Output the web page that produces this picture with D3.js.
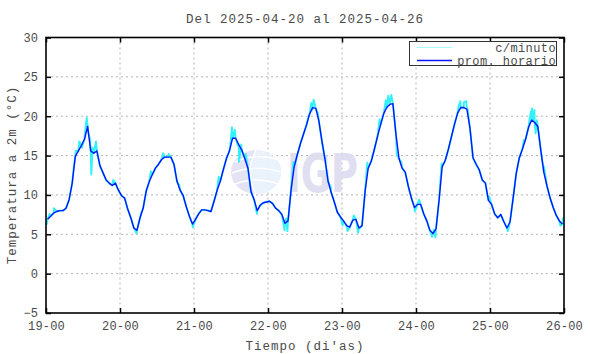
<!DOCTYPE html>
<html>
<head>
<meta charset="utf-8">
<script src="https://cdn.jsdelivr.net/npm/d3@7"></script>
<style>
  body { margin: 0; background: #fff; }
  svg { display: block; }
  text { font-family: "Liberation Mono", "DejaVu Sans Mono", monospace; fill: #4a4a4a; }
</style>
</head>
<body>
<svg id="chart"></svg>
<script>
const width = 590;
const height = 354;
const margin = { top: 37.5, right: 26, bottom: 41, left: 46 };

const startDate = "2025-04-19T00:00:00Z";
const endDate = "2025-04-26T00:00:00Z";
const titleText = "Del 2025-04-20 al 2025-04-26";
const yTicks = [-5, 0, 5, 10, 15, 20, 25, 30];
const seriesNames = ["c/minuto", "prom. horario"];

// promedio horario (una lectura por hora, centrada en hh:30)
const hourlyTemp = [
  6.9, 7.3, 7.7, 7.9, 8.0, 8.0, 8.3, 9.4, 11.5, 14.9, 15.6, 16.3, 17.1, 18.7, 15.6, 15.3, 15.6, 13.7, 12.8, 11.9, 11.5, 11.2, 11.5, 10.6,
  9.9, 9.6, 8.2, 7.1, 5.8, 5.5, 7.1, 8.3, 10.5, 11.7, 12.6, 13.4, 13.9, 14.5, 14.8, 14.8, 14.8, 13.9, 11.7, 10.6, 9.9, 8.5, 7.3, 6.3,
  6.9, 7.6, 8.1, 8.1, 8.0, 7.9, 9.2, 10.6, 11.7, 13.2, 14.6, 15.6, 17.2, 17.2, 16.4, 15.7, 14.6, 13.4, 10.4, 9.4, 8.0, 8.7, 9.0, 9.1,
  9.2, 8.9, 8.3, 8.0, 7.5, 6.4, 6.7, 10.7, 13.6, 15.1, 16.5, 17.7, 18.9, 20.3, 21.1, 21.0, 19.4, 16.8, 14.5, 11.7, 10.3, 9.1, 7.8, 7.2,
  6.7, 6.1, 5.9, 6.8, 6.9, 5.8, 6.1, 10.5, 13.4, 14.3, 15.8, 17.4, 18.9, 20.3, 21.1, 21.5, 21.6, 17.7, 14.6, 13.4, 12.9, 11.1, 9.6, 8.4,
  8.8, 8.8, 7.6, 6.7, 5.5, 5.1, 5.7, 9.4, 13.6, 14.4, 15.8, 17.4, 19.0, 20.4, 21.1, 21.1, 20.9, 18.5, 14.7, 13.9, 13.2, 11.9, 11.5, 9.3,
  8.8, 7.6, 7.1, 7.5, 6.6, 5.8, 6.6, 9.6, 12.7, 14.7, 15.8, 17.0, 18.6, 19.5, 19.2, 18.7, 15.6, 12.8, 11.1, 9.6, 8.4, 7.4, 6.7, 6.3
];

// picos visibles de la serie por minuto: [hora desde el inicio, °C]
const minuteSpikes = [
  [0.2, 6.2], [1.2, 7.6], [2.6, 8.3], [9.0, 13.5], [9.6, 15.6], [10.8, 16.8], [11.6, 16.0], [12.6, 17.8],
  [13.2, 19.8], [13.7, 18.0], [14.3, 17.0], [14.7, 12.6], [15.1, 16.0], [16.2, 16.8], [21.8, 11.9], [23.2, 10.8],
  [29.4, 5.1], [30.8, 7.6], [34.0, 13.0], [38.0, 15.3], [39.8, 15.2], [43.2, 11.3], [47.6, 5.9],
  [56.0, 12.3], [59.8, 16.4], [60.3, 18.6], [60.8, 17.5], [61.2, 18.3], [62.2, 16.3], [62.6, 14.2], [63.3, 16.4],
  [64.8, 15.2], [68.4, 7.6], [77.4, 5.5], [77.9, 7.0], [78.3, 5.4], [80.2, 14.2], [84.8, 19.5], [86.0, 21.7],
  [86.4, 20.8], [86.8, 22.1], [87.3, 21.4], [88.2, 20.4], [92.4, 11.0], [96.2, 6.1], [97.8, 5.4], [99.8, 7.4],
  [101.2, 5.2], [101.8, 5.8], [104.2, 14.1], [108.2, 19.6], [110.2, 22.0], [110.6, 21.2], [111.0, 22.6], [111.5, 21.6],
  [112.0, 22.7], [112.6, 21.3], [113.8, 15.0], [115.2, 14.2], [119.6, 7.9], [121.0, 9.4], [125.2, 4.7], [125.8, 5.6],
  [126.3, 4.6], [128.3, 14.0], [133.8, 21.3], [134.4, 21.9], [135.0, 21.0], [135.5, 21.8], [136.3, 21.9], [136.8, 20.8],
  [143.7, 9.8], [149.8, 5.4], [151.8, 10.5], [155.0, 17.0], [156.8, 19.6], [157.3, 20.6], [157.6, 21.0], [158.0, 19.4],
  [158.4, 20.8], [158.8, 17.8], [159.2, 19.5], [161.5, 13.6], [166.8, 6.1], [167.6, 7.0], [168.0, 6.6]
];

const t0 = new Date(startDate);
const hourToDate = h => new Date(t0.getTime() + h * 3600e3);

const hourly = hourlyTemp.map((v, i) => ({ t: hourToDate(i + 0.5), v }));
const minute = hourly.concat(minuteSpikes.map(([h, v]) => ({ t: hourToDate(h), v })))
  .sort((a, b) => a.t - b.t);

const svg = d3.select("#chart")
  .attr("width", width)
  .attr("height", height);

const x = d3.scaleUtc()
  .domain([t0, new Date(endDate)])
  .range([margin.left, width - margin.right]);

const y = d3.scaleLinear()
  .domain([-5, 30])
  .range([height - margin.bottom, margin.top]);

const plotL = margin.left, plotR = width - margin.right;
const plotT = margin.top, plotB = height - margin.bottom;
const days = d3.utcDay.range(t0, d3.utcDay.offset(new Date(endDate), 1));

// rejilla punteada
const grid = svg.append("g")
  .attr("stroke", "#b4b4b4")
  .attr("stroke-width", 1)
  .attr("stroke-dasharray", "2,3");
grid.selectAll("line.gx")
  .data(days.slice(1, -1))
  .join("line")
    .attr("x1", d => x(d)).attr("x2", d => x(d))
    .attr("y1", plotT).attr("y2", plotB);
grid.selectAll("line.gy")
  .data(yTicks.slice(1, -1))
  .join("line")
    .attr("x1", plotL).attr("x2", plotR)
    .attr("y1", d => y(d)).attr("y2", d => y(d));

// marca de agua IGP
const logo = svg.append("g").attr("opacity", 0.9);
logo.append("ellipse")
  .attr("cx", 256).attr("cy", 172).attr("rx", 25).attr("ry", 22)
  .attr("fill", "#e1e1f4");
logo.append("path")
  .attr("d", "M256,150 A25,22 0 0,1 256,194 Q244,172 256,150 Z")
  .attr("fill", "#e8f1fc");
logo.append("g")
  .attr("fill", "none")
  .attr("stroke", "#fff")
  .attr("stroke-width", 1.4)
  .selectAll("path")
  .data([
    "M235,162 Q256,152 279,160",
    "M232,173 Q256,164 281,172",
    "M235,184 Q256,176 278,184",
    "M256,150 Q244,172 256,194"
  ])
  .join("path")
    .attr("d", d => d);
logo.append("text")
  .attr("x", 287).attr("y", 192)
  .attr("textLength", 71)
  .attr("lengthAdjust", "spacingAndGlyphs")
  .style("font-family", "'DejaVu Sans', sans-serif")
  .style("font-weight", "bold")
  .style("font-size", "54px")
  .style("fill", "#dcdcf0")
  .text("IGP");

// series
const line = d3.line()
  .x(d => x(d.t))
  .y(d => y(d.v));

svg.append("path")
  .datum(minute)
  .attr("fill", "none")
  .attr("stroke", "#30f2f8")
  .attr("stroke-width", 1.9)
  .attr("stroke-linejoin", "round")
  .attr("d", line);

svg.append("path")
  .datum(hourly)
  .attr("fill", "none")
  .attr("stroke", "#0a14ff")
  .attr("stroke-width", 1.4)
  .attr("stroke-linejoin", "round")
  .attr("d", line);

// ejes (marcas hacia dentro en los cuatro lados)
const xAxis = svg.append("g")
  .attr("transform", `translate(0,${plotB})`)
  .call(d3.axisBottom(x)
    .tickValues(days.slice(0, 8))
    .tickFormat(d3.utcFormat("%d-%H"))
    .tickSizeInner(-5).tickSizeOuter(0).tickPadding(8));
xAxis.select(".domain").remove();
xAxis.selectAll("text").style("font-size", "12px").attr("letter-spacing", "0.2px").attr("fill", "#4a4a4a");

svg.append("g")
  .attr("transform", `translate(0,${plotT})`)
  .call(d3.axisTop(x).tickValues(days.slice(0, 8)).tickFormat("").tickSizeInner(-5).tickSizeOuter(0))
  .select(".domain").remove();

const yAxis = svg.append("g")
  .attr("transform", `translate(${plotL},0)`)
  .call(d3.axisLeft(y)
    .tickValues(yTicks)
    .tickSizeInner(-5).tickSizeOuter(0).tickPadding(8));
yAxis.select(".domain").remove();
yAxis.selectAll("text").style("font-size", "12px").attr("fill", "#4a4a4a");

svg.append("g")
  .attr("transform", `translate(${plotR},0)`)
  .call(d3.axisRight(y).tickValues(yTicks).tickFormat("").tickSizeInner(-5).tickSizeOuter(0))
  .select(".domain").remove();

svg.selectAll(".tick line").attr("stroke", "#000").attr("stroke-width", 1.5);

// marco
svg.append("rect")
  .attr("x", plotL).attr("y", plotT)
  .attr("width", plotR - plotL).attr("height", plotB - plotT)
  .attr("fill", "none")
  .attr("stroke", "#000")
  .attr("stroke-width", 1.6);

// leyenda
const legend = svg.append("g");
legend.append("rect")
  .attr("x", 409.5).attr("y", 41.5).attr("width", 147).attr("height", 24)
  .attr("fill", "#fff").attr("stroke", "#333").attr("stroke-width", 1);
const legendColors = ["#a6fafc", "#0a14ff"];
const legendWidths = [1, 1.4];
seriesNames.forEach((name, i) => {
  const ly = 47.5 + i * 13;
  legend.append("line")
    .attr("x1", 417).attr("x2", 452).attr("y1", ly).attr("y2", ly)
    .attr("stroke", legendColors[i]).attr("stroke-width", legendWidths[i]);
  legend.append("text")
    .attr("x", 556).attr("y", ly + 4)
    .attr("text-anchor", "end")
    .attr("letter-spacing", "0.4px")
    .style("font-size", "12px")
    .text(name);
});

// títulos
svg.append("text")
  .attr("x", 305).attr("y", 23)
  .attr("text-anchor", "middle")
  .attr("letter-spacing", "1px")
  .style("font-size", "12.5px")
  .text(titleText);

svg.append("text")
  .attr("x", 305).attr("y", 350)
  .attr("text-anchor", "middle")
  .attr("letter-spacing", "1px")
  .style("font-size", "12.5px")
  .text("Tiempo (di'as)");

svg.append("text")
  .attr("transform", "translate(16,175) rotate(-90)")
  .attr("text-anchor", "middle")
  .attr("letter-spacing", "1px")
  .style("font-size", "12.5px")
  .text("Temperatura a 2m (°C)");
</script>
</body>
</html>
